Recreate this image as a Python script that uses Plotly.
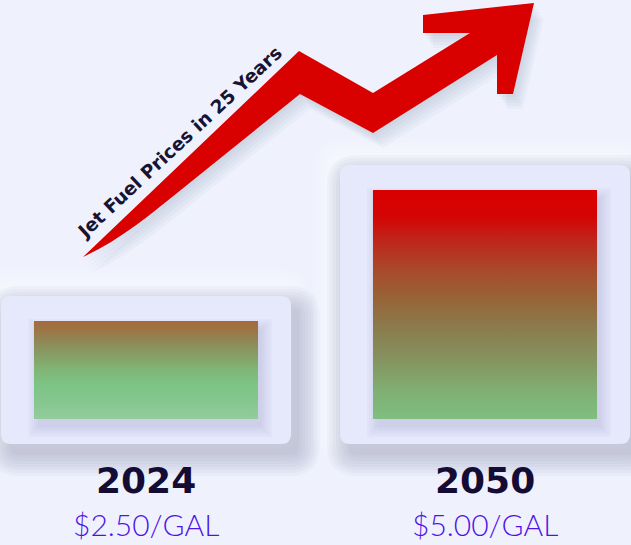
import plotly.graph_objects as go

# ---------------- data ----------------
YEARS = ["2024", "2050"]
PRICES = [2.50, 5.00]
PRICE_LABELS = [f"${p:.2f}/GAL" for p in PRICES]
TITLE = "Jet Fuel Prices in 25 Years"

# gradient colour stops per bar (0 = bottom of bar, 1 = top)
GRADIENTS = [
    [[0.0, "#92cc9c"], [0.19, "#85c68e"], [0.35, "#7cc486"], [0.5, "#80b676"],
     [0.65, "#869e65"], [0.8, "#8f8756"], [0.9, "#9c7646"], [1.0, "#a86a3c"]],
    [[0.0, "#7fbf7f"], [0.127, "#80ae73"], [0.259, "#85935f"], [0.39, "#8a7d4e"],
     [0.52, "#966538"], [0.65, "#a84a2a"], [0.785, "#c0241a"], [0.886, "#d40404"],
     [1.0, "#d90000"]],
]

# ---------------- layout constants ----------------
W, H = 631, 545
X_RANGE = [-0.4307, 1.4307]
Y_RANGE = [-1.775, 8.626]
BAR_BASE = 0.63
BAR_WIDTH = 0.661
UX = (X_RANGE[1] - X_RANGE[0]) / W   # data units per pixel (x)
UY = (Y_RANGE[1] - Y_RANGE[0]) / H   # data units per pixel (y)

BG = "#eff2fd"
PANEL = "#e5e9fb"
ARROW = "#d90000"


def rr_path(x0, y0, x1, y1, rx, ry):
    return (f"M {x0+rx},{y0} L {x1-rx},{y0} Q {x1},{y0} {x1},{y0+ry} "
            f"L {x1},{y1-ry} Q {x1},{y1} {x1-rx},{y1} L {x0+rx},{y1} "
            f"Q {x0},{y1} {x0},{y1-ry} L {x0},{y0+ry} Q {x0},{y0} {x0+rx},{y0} Z")


fig = go.Figure()
shapes = []

for i, (yr, p) in enumerate(zip(YEARS, PRICES)):
    bx0, bx1 = i - BAR_WIDTH / 2, i + BAR_WIDTH / 2
    by0, by1 = BAR_BASE, p
    px0, px1 = bx0 - 33 * UX, bx1 + 33 * UX
    py0, py1 = by0 - 25 * UY, by1 + 25 * UY
    rx, ry = 10 * UX, 10 * UY
    # light glow top-left
    for k in range(6):
        e = 3 + k * 4
        shapes.append(dict(type="path", xref="x", yref="y", layer="below",
                           path=rr_path(px0 - e * UX - 4 * UX, py0 - e * UY + 4 * UY,
                                        px1 + e * UX - 4 * UX, py1 + e * UY + 4 * UY,
                                        rx + e * UX, ry + e * UY),
                           fillcolor="rgba(255,255,255,0.11)", line=dict(width=0)))
    # dark shadow bottom-right
    for k in range(8):
        e = k * 3
        shapes.append(dict(type="path", xref="x", yref="y", layer="below",
                           path=rr_path(px0 - e * UX + 8 * UX, py0 - e * UY - 11 * UY,
                                        px1 + e * UX + 8 * UX, py1 + e * UY - 11 * UY,
                                        rx + e * UX, ry + e * UY),
                           fillcolor="rgba(120,128,170,0.055)", line=dict(width=0)))
    shapes.append(dict(type="path", xref="x", yref="y", layer="below",
                       path=rr_path(px0, py0, px1, py1, rx, ry),
                       fillcolor=PANEL, line=dict(width=0)))
    # bar shadow inside panel
    for k in range(6):
        e = k * 2
        shapes.append(dict(type="rect", xref="x", yref="y", layer="below",
                           x0=bx0 - e * UX + 4 * UX, x1=bx1 + e * UX + 4 * UX,
                           y0=by0 - e * UY - 8 * UY, y1=by1 + e * UY - 8 * UY,
                           fillcolor="rgba(140,148,195,0.045)", line=dict(width=0)))

    fig.add_trace(go.Scatter(
        x=[bx0, bx1, bx1, bx0, bx0], y=[by0, by0, by1, by1, by0],
        fill="toself", mode="lines", line=dict(width=0, color="rgba(0,0,0,0)"),
        fillgradient=dict(type="vertical", colorscale=GRADIENTS[i], start=by0, stop=by1),
        name=yr, showlegend=False, hoverinfo="skip"))

# arrow (decoration, pixel coordinates on helper axes)
ARROW_PATH = ("M 83,257 L 299,51 L 373,93 L 470,33 L 423,33 L 423,15 L 534,3 "
              "L 513,94 L 497,94 L 497,55 L 373,133 L 300,94 L 187,185 "
              "C 150,215 120,240 83,257 Z")


def shifted(path, dx, dy):
    out = []
    for tok in path.split():
        if "," in tok:
            a, b = tok.split(",")
            out.append(f"{float(a)+dx},{float(b)+dy}")
        else:
            out.append(tok)
    return " ".join(out)


for k, (dx, dy) in enumerate([(2, 3), (4, 6), (6, 9), (8, 12), (10, 15)]):
    shapes.append(dict(type="path", xref="x2", yref="y2", layer="above",
                       path=shifted(ARROW_PATH, dx, dy),
                       fillcolor="rgba(70,75,110,0.035)", line=dict(width=0)))
shapes.append(dict(type="path", xref="x2", yref="y2", layer="above",
                   path=ARROW_PATH, fillcolor=ARROW, line=dict(width=0)))

fig.add_trace(go.Scatter(x=[0], y=[0], xaxis="x2", yaxis="y2", mode="markers",
                         marker=dict(opacity=0), showlegend=False, hoverinfo="skip"))

annotations = [dict(text=TITLE, xref="x2", yref="y2", x=179, y=142, textangle=-43,
                    showarrow=False, xanchor="center", yanchor="middle",
                    font=dict(family="DejaVu Sans", size=18.5, color="#171433", weight="bold"))]
for i, (yr, lab) in enumerate(zip(YEARS, PRICE_LABELS)):
    annotations.append(dict(text=yr, xref="x", yref="y2", x=i, y=480, showarrow=False,
                            xanchor="center", yanchor="middle",
                            font=dict(family="DejaVu Sans", size=36, color="#150c35",
                                      weight="bold")))
    annotations.append(dict(text=lab, xref="x", yref="y2", x=i, y=524, showarrow=False,
                            xanchor="center", yanchor="middle",
                            font=dict(family="Lato", size=30, color="#4f12e8",
                                      weight=300)))

fig.update_layout(
    width=W, height=H, margin=dict(l=0, r=0, t=0, b=0),
    paper_bgcolor=BG, plot_bgcolor=BG, showlegend=False,
    xaxis=dict(range=X_RANGE, visible=False, fixedrange=True),
    yaxis=dict(range=Y_RANGE, visible=False, fixedrange=True),
    xaxis2=dict(range=[0, W], overlaying="x", visible=False, fixedrange=True),
    yaxis2=dict(range=[H, 0], overlaying="y", visible=False, fixedrange=True),
    shapes=shapes, annotations=annotations,
)

fig.write_html("out.html", config={"displayModeBar": False},
               post_script="document.body.style.margin='0';document.body.style.background='%s';" % BG)
